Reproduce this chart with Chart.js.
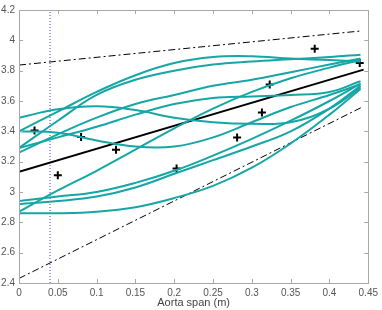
<!DOCTYPE html>
<html>
<head>
<meta charset="utf-8">
<script src="https://cdn.jsdelivr.net/npm/chart.js@4"></script>
<style>
  html, body { margin: 0; padding: 0; background: #fff; }
  #wrap { width: 382px; height: 310px; }
</style>
</head>
<body>
<div id="wrap"><canvas id="c" width="382" height="310"></canvas></div>
<script>
// sample positions along the aorta (m)
const spanX = [0, 0.05, 0.1, 0.15, 0.2, 0.25, 0.3, 0.35, 0.4, 0.44];

// teal model curves at spanX
const curve1 = [3.40, 3.53, 3.66, 3.77, 3.85, 3.89, 3.895, 3.88, 3.87, 3.86];
const curve2 = [3.29, 3.47, 3.64, 3.74, 3.80, 3.84, 3.86, 3.875, 3.89, 3.905];
const curve3 = [3.26, 3.38, 3.49, 3.58, 3.64, 3.70, 3.74, 3.79, 3.84, 3.88];
const curve4 = [3.49, 3.545, 3.565, 3.54, 3.49, 3.46, 3.45, 3.46, 3.55, 3.69];
const curve5 = [3.29, 3.36, 3.43, 3.51, 3.58, 3.62, 3.63, 3.64, 3.66, 3.73];
const curve6 = [3.40, 3.39, 3.34, 3.30, 3.30, 3.36, 3.46, 3.56, 3.64, 3.71];
const curve7 = [2.87, 3.01, 3.14, 3.28, 3.42, 3.55, 3.66, 3.75, 3.82, 3.87];
const curve8 = [2.94, 2.97, 3.00, 3.06, 3.14, 3.24, 3.35, 3.47, 3.60, 3.715];
const curve9 = [2.92, 2.94, 2.97, 3.03, 3.12, 3.21, 3.30, 3.40, 3.55, 3.70];
const curve10 = [2.86, 2.86, 2.87, 2.90, 2.96, 3.04, 3.16, 3.32, 3.51, 3.68];
const curves = [curve1, curve2, curve3, curve4, curve5, curve6, curve7, curve8, curve9, curve10];

// measured points (+)
const measX = [0.02, 0.05, 0.08, 0.125, 0.203, 0.281, 0.313, 0.323, 0.381, 0.439];
const measY = [3.405, 3.11, 3.362, 3.278, 3.155, 3.36, 3.524, 3.708, 3.945, 3.85];

// linear fit and its bounds
const fitX = [0, 0.444];
const fitY = [3.133, 3.807];
const boundX = [0, 0.441];
const upperY = [3.837, 4.062];
const lowerY = [2.43, 3.557];

// vertical marker
const markX = 0.04;

const xTicks = [0, 0.05, 0.1, 0.15, 0.2, 0.25, 0.3, 0.35, 0.4, 0.45];
const yTicks = [2.4, 2.6, 2.8, 3, 3.2, 3.4, 3.6, 3.8, 4, 4.2];

const pts = (xs, ys) => xs.map((x, i) => ({ x: x, y: ys[i] }));
const teal = '#16a6a6';
const axisGray = '#a8a8a8';

const datasets = [];
curves.forEach(c => {
  datasets.push({
    data: pts(spanX, c), showLine: true, borderColor: teal, borderWidth: 2,
    pointRadius: 0, tension: 0.4, fill: false
  });
});
datasets.push({
  data: pts(fitX, fitY), showLine: true, borderColor: '#000', borderWidth: 2, pointRadius: 0
});
datasets.push({
  data: pts(boundX, upperY), showLine: true, borderColor: '#000', borderWidth: 1,
  borderDash: [7, 3, 2, 3], pointRadius: 0
});
datasets.push({
  data: pts(boundX, lowerY), showLine: true, borderColor: '#000', borderWidth: 1,
  borderDash: [7, 3, 2, 3], pointRadius: 0
});
datasets.push({
  data: [{ x: markX, y: 2.4 }, { x: markX, y: 4.2 }], showLine: true,
  borderColor: '#3a3aff', borderWidth: 1, borderDash: [1, 2], pointRadius: 0
});
datasets.push({
  data: pts(measX, measY), showLine: false, pointStyle: 'cross', pointRadius: 4,
  borderColor: '#000', borderWidth: 2, backgroundColor: '#000'
});

// MATLAB-ish box with inward ticks
const boxTicks = {
  id: 'boxTicks',
  afterDraw(chart) {
    const { ctx, chartArea: a, scales } = chart;
    ctx.save();
    ctx.strokeStyle = axisGray;
    ctx.lineWidth = 1;
    ctx.beginPath();
    xTicks.forEach(t => {
      const px = Math.round(scales.x.getPixelForValue(t)) + 0.5;
      ctx.moveTo(px, a.bottom); ctx.lineTo(px, a.bottom - 4);
      ctx.moveTo(px, a.top); ctx.lineTo(px, a.top + 4);
    });
    yTicks.forEach(t => {
      const py = Math.round(scales.y.getPixelForValue(t)) + 0.5;
      ctx.moveTo(a.left, py); ctx.lineTo(a.left + 4, py);
      ctx.moveTo(a.right, py); ctx.lineTo(a.right - 4, py);
    });
    ctx.stroke();
    ctx.strokeRect(Math.round(a.left) + 0.5, Math.round(a.top) + 0.5,
      Math.round(a.right - a.left), Math.round(a.bottom - a.top));
    ctx.restore();
  }
};

new Chart(document.getElementById('c'), {
  type: 'scatter',
  data: { datasets: datasets },
  options: {
    responsive: false,
    animation: false,
    layout: { padding: { top: 5, right: 10, left: 0, bottom: 0 } },
    plugins: { legend: { display: false }, tooltip: { enabled: false } },
    scales: {
      x: {
        type: 'linear', min: 0, max: 0.45,
        afterBuildTicks: s => { s.ticks = xTicks.map(v => ({ value: v })); },
        afterFit: s => { s.height = 27; },
        grid: { display: false, drawTicks: false }, border: { display: false },
        ticks: {
          color: '#555', padding: 4, maxRotation: 0,
          font: { family: 'Liberation Sans', size: 10 },
          callback: v => String(v)
        },
        title: {
          display: true, text: 'Aorta span (m)', color: '#444', padding: { top: 0, bottom: 0 },
          font: { family: 'Liberation Sans', size: 11 }
        }
      },
      y: {
        type: 'linear', min: 2.4, max: 4.2,
        afterBuildTicks: s => { s.ticks = yTicks.map(v => ({ value: v })); },
        afterFit: s => { s.width = 19; },
        grid: { display: false, drawTicks: false }, border: { display: false },
        ticks: {
          color: '#555', padding: 4,
          font: { family: 'Liberation Sans', size: 10 },
          callback: v => String(+v.toFixed(2))
        }
      }
    }
  },
  plugins: [boxTicks]
});
</script>
</body>
</html>
